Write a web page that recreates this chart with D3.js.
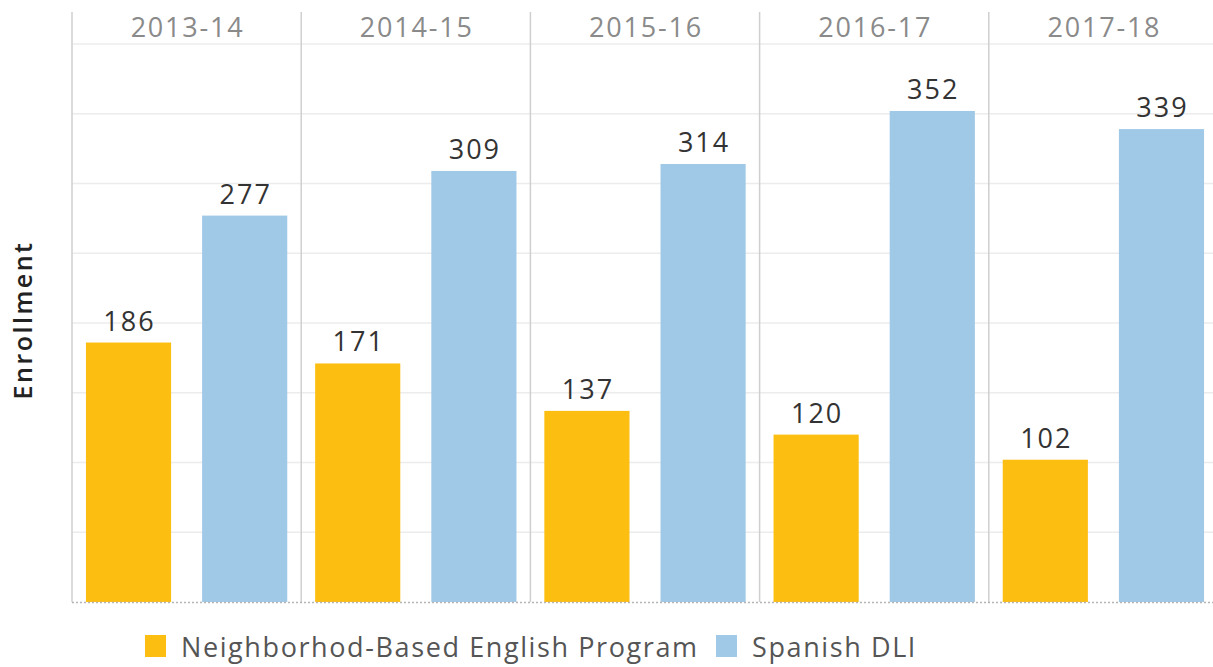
<!DOCTYPE html>
<html>
<head>
<meta charset="utf-8">
<script src="https://cdn.jsdelivr.net/npm/d3@7"></script>
<style>
  body { margin: 0; background: #fff; }
  svg { display: block; font-family: "Open Sans", sans-serif; }
</style>
</head>
<body>
<svg width="1213" height="667"></svg>
<script>
var years = ["2013-14", "2014-15", "2015-16", "2016-17", "2017-18"];
var programs = ["Neighborhod-Based English Program", "Spanish DLI"];
var englishValues = [186, 171, 137, 120, 102];
var dliValues = [277, 309, 314, 352, 339];
var gridTicks = [50, 100, 150, 200, 250, 300, 350, 400];
var colors = ["#FDBE12", "#A0C9E7"];

window.addEventListener("DOMContentLoaded", function () {
    var svg = d3.select("svg");
    var left = 72, right = 1218, top = 12, headerBottom = 44, bottom = 602;

    var x = d3.scaleBand().domain(years).range([left, right]);
    var xInner = d3.scaleBand().domain(programs).range([0, x.bandwidth()])
        .paddingInner(0.267).paddingOuter(0.12);
    var y = d3.scaleLinear().domain([0, 400]).range([bottom, headerBottom]);

    // gridlines
    svg.append("g")
        .selectAll("line")
        .data(gridTicks)
        .enter()
        .append("line")
        .attr("x1", left)
        .attr("x2", right)
        .attr("y1", function (d) { return y(d); })
        .attr("y2", function (d) { return y(d); })
        .style("stroke", "#ececec")
        .style("stroke-width", "1.5px");

    // panel dividers
    svg.append("g")
        .selectAll("line")
        .data(years)
        .enter()
        .append("line")
        .attr("x1", function (d) { return x(d); })
        .attr("x2", function (d) { return x(d); })
        .attr("y1", top)
        .attr("y2", bottom)
        .style("stroke", "#cfcfcf")
        .style("stroke-width", "1.5px");

    // year headers
    svg.append("g")
        .selectAll("text")
        .data(years)
        .enter()
        .append("text")
        .attr("x", function (d) { return x(d) + x.bandwidth() / 2 + 1; })
        .attr("y", 37)
        .attr("text-anchor", "middle")
        .style("font-size", "27px")
        .style("letter-spacing", "1.8px")
        .style("fill", "#8a8a8a")
        .text(function (d) { return d; });

    var rows = [];
    years.forEach(function (yr, i) {
        rows.push({ year: yr, program: programs[0], value: englishValues[i] });
        rows.push({ year: yr, program: programs[1], value: dliValues[i] });
    });

    var color = d3.scaleOrdinal().domain(programs).range(colors);

    svg.append("g")
        .selectAll("rect")
        .data(rows)
        .enter()
        .append("rect")
        .attr("x", function (d) { return x(d.year) + xInner(d.program); })
        .attr("width", xInner.bandwidth())
        .attr("y", function (d) { return y(d.value); })
        .attr("height", function (d) { return bottom - y(d.value); })
        .style("fill", function (d) { return color(d.program); });

    svg.append("g")
        .selectAll("text")
        .data(rows)
        .enter()
        .append("text")
        .attr("x", function (d) { return x(d.year) + xInner(d.program) + xInner.bandwidth() / 2 + 1; })
        .attr("y", function (d) { return y(d.value) - 12; })
        .attr("text-anchor", "middle")
        .style("font-size", "27px")
        .style("letter-spacing", "2px")
        .style("fill", "#333")
        .text(function (d) { return d.value; });

    // dotted baseline
    svg.append("line")
        .attr("x1", left)
        .attr("x2", right)
        .attr("y1", bottom + 0.5)
        .attr("y2", bottom + 0.5)
        .style("stroke", "#b5b5b5")
        .style("stroke-width", "1.5px")
        .style("stroke-dasharray", "2,2");

    // axis title
    svg.append("text")
        .attr("transform", "translate(32,320) rotate(-90)")
        .attr("text-anchor", "middle")
        .style("font-size", "25px")
        .style("font-weight", "600")
        .style("letter-spacing", "2.5px")
        .style("fill", "#222")
        .text("Enrollment");

    // legend
    var legendX = [145, 716];
    var legend = svg.append("g")
        .selectAll("g")
        .data(programs)
        .enter()
        .append("g")
        .attr("transform", function (d, i) { return "translate(" + legendX[i] + ",635)"; });
    legend.append("rect")
        .attr("width", 21)
        .attr("height", 22)
        .style("fill", function (d) { return color(d); });
    legend.append("text")
        .attr("x", 36)
        .attr("y", 22)
        .style("font-size", "27px")
        .style("letter-spacing", "1.6px")
        .style("fill", "#555")
        .text(function (d) { return d; });
});
</script>
</body>
</html>
